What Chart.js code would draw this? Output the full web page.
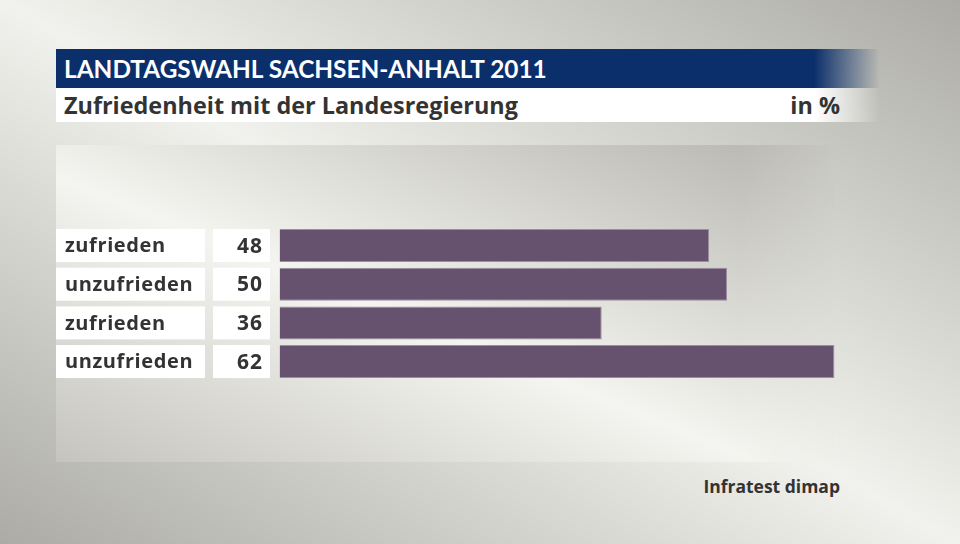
<!DOCTYPE html>
<html>
<head>
<meta charset="utf-8">
<script src="https://cdn.jsdelivr.net/npm/chart.js@4"></script>
<style>
  html, body { margin: 0; padding: 0; }
  body {
    width: 960px; height: 544px; position: relative; overflow: hidden;
    background: linear-gradient(to top right, #acaca5 0%, #f1f1ed 50%, #acaca5 100%);
    font-family: "Open Sans", sans-serif;
  }
  #panel {
    position: absolute; left: 56px; top: 145px; width: 780px; height: 317px;
    background: linear-gradient(to top right, #c5c4be 0%, #f4f4f0 45%, #b4b3ac 100%);
    -webkit-mask-image: linear-gradient(to right, #000 88%, transparent 100%);
    mask-image: linear-gradient(to right, #000 88%, transparent 100%);
  }
  #titlebar {
    position: absolute; left: 56px; top: 49px; width: 824px; height: 39px;
    background: linear-gradient(to right, #0b2f6b 0%, #0b2f6b 92%, rgba(11,47,107,0) 100%);
    color: #fff; font-family: Lato, sans-serif; font-weight: bold; font-size: 24.4px; line-height: 39px;
  }
  #subbar {
    position: absolute; left: 56px; top: 88px; width: 824px; height: 34px;
    background: linear-gradient(to right, #fff 0%, #fff 92%, rgba(255,255,255,0) 100%);
    color: #333; font-weight: 700; font-size: 23.4px; line-height: 34px;
  }
  .lt { position: absolute; left: 8px; top: 0; white-space: nowrap; }
  .rt { position: absolute; right: 40px; top: 0; white-space: nowrap; }
  #source {
    position: absolute; right: 120px; top: 474px; color: #333;
    font-weight: 700; font-size: 17.5px;
  }
  #wrap { position: absolute; left: 0; top: 0; width: 960px; height: 544px; }
</style>
</head>
<body>
<div id="panel"></div>
<div id="titlebar"><span class="lt">LANDTAGSWAHL SACHSEN-ANHALT 2011</span></div>
<div id="subbar"><span class="lt">Zufriedenheit mit der Landesregierung</span><span class="rt">in %</span></div>
<div id="source">Infratest dimap</div>
<div id="wrap"><canvas id="chart" width="960" height="544"></canvas></div>
<script>
const categories = ["zufrieden", "unzufrieden", "zufrieden", "unzufrieden"];
const values = [48, 50, 36, 62];
const xMax = 70;

// Beschriftungskästen links neben den Balken
const labelBoxes = {
    id: "labelBoxes",
    afterDatasetsDraw(chart) {
        const c = chart.ctx;
        const y = chart.scales.y;
        c.save();
        categories.forEach((name, i) => {
            const py = y.getPixelForValue(i);
            c.fillStyle = "#ffffff";
            c.fillRect(56, py - 16.5, 149, 33);
            c.fillRect(213, py - 16.5, 57, 33);
            c.fillStyle = "#333333";
            c.textBaseline = "middle";
            c.font = "700 20px 'Open Sans', sans-serif";
            c.letterSpacing = "0.6px";
            c.textAlign = "left";
            c.fillText(name, 65, py + 1);
            c.font = "700 21px 'Open Sans', sans-serif";
            c.letterSpacing = "1px";
            c.textAlign = "right";
            c.fillText(String(values[i]), 263, py + 1);
        });
        c.restore();
    },
};

new Chart(document.getElementById("chart").getContext("2d"), {
    type: "bar",
    data: {
        labels: categories,
        datasets: [
            {
                data: values,
                backgroundColor: "#66526e",
                borderColor: "#9a8ea0",
                borderWidth: 1,
                barPercentage: 0.853,
                categoryPercentage: 1,
            },
        ],
    },
    options: {
        indexAxis: "y",
        responsive: false,
        animation: false,
        layout: { padding: { left: 279.5, right: 960 - 279.5 - 8.95 * xMax, top: 226.2, bottom: 544 - 380.9 } },
        plugins: { legend: { display: false }, tooltip: { enabled: false } },
        scales: {
            x: { display: false, min: 0, max: xMax },
            y: { display: false },
        },
    },
    plugins: [labelBoxes],
});
</script>
</body>
</html>
